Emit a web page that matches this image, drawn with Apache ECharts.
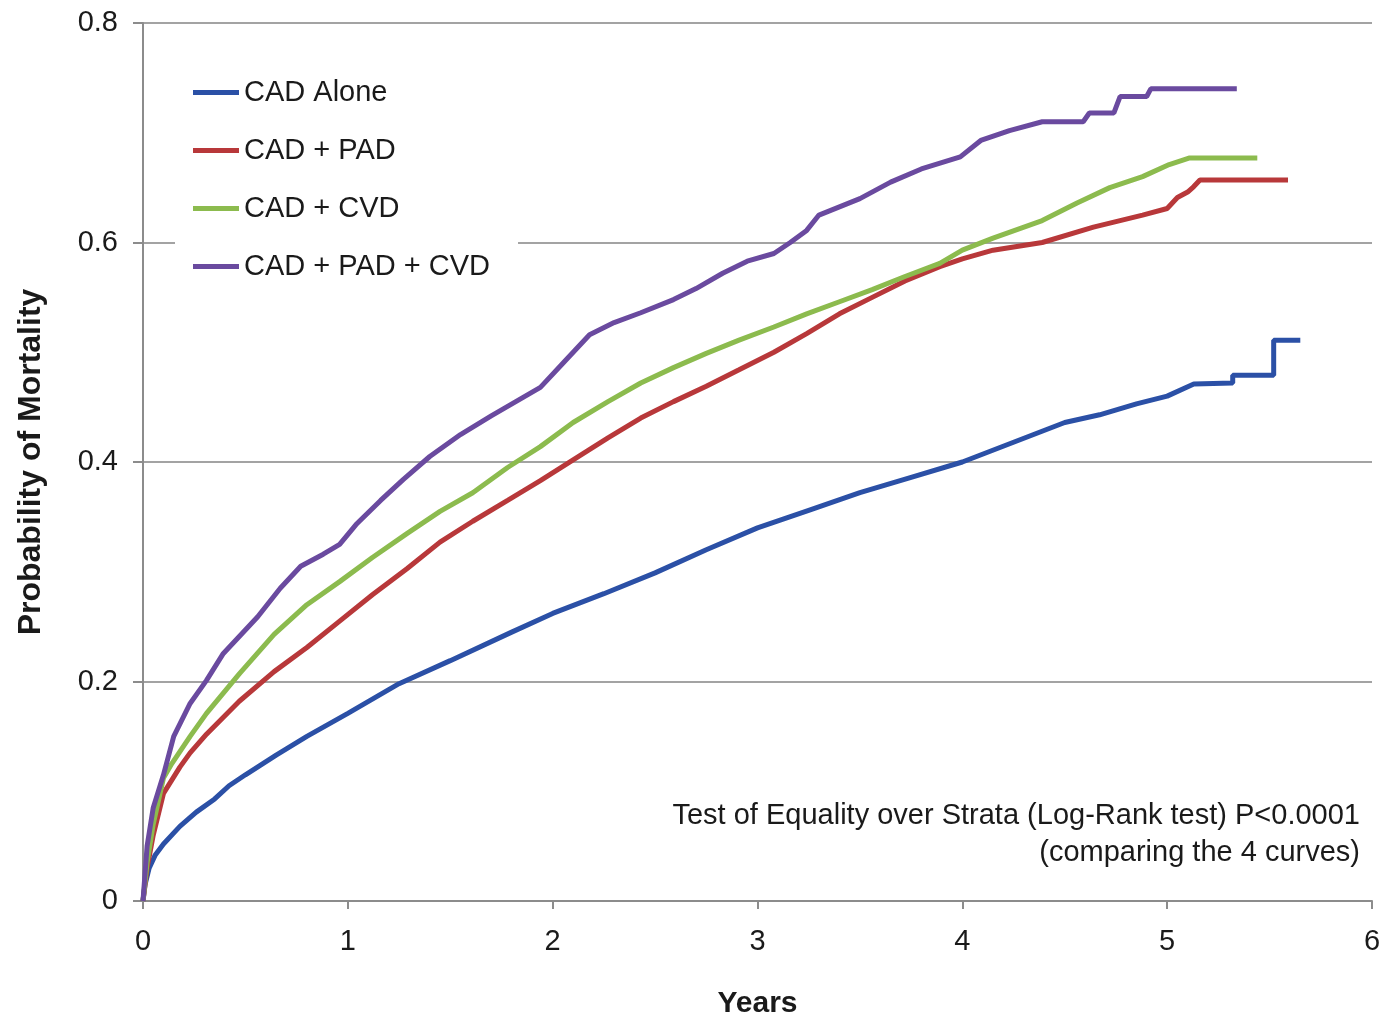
<!DOCTYPE html>
<html>
<head>
<meta charset="utf-8">
<script src="https://cdn.jsdelivr.net/npm/echarts@6/dist/echarts.min.js"></script>
<style>
  html, body { margin: 0; padding: 0; background: #fff; }
  #main { width: 1388px; height: 1021px; }
</style>
</head>
<body>
<div id="main"></div>
<script>
// curves: [years, probability]
const cadAlone = [
  [0,0],[0.01,0.015],[0.03,0.03],[0.06,0.042],[0.1,0.052],[0.18,0.068],[0.26,0.081],
  [0.35,0.093],[0.42,0.105],[0.5,0.115],[0.65,0.133],[0.8,0.150],[1.0,0.171],[1.25,0.198],
  [1.5,0.219],[1.8,0.245],[2.0,0.262],[2.25,0.280],[2.5,0.299],[2.75,0.320],[3.0,0.340],
  [3.25,0.356],[3.5,0.372],[3.75,0.386],[4.0,0.400],[4.25,0.418],[4.5,0.436],[4.67,0.443],
  [4.85,0.453],[5.0,0.460],[5.13,0.471],[5.32,0.472],[5.32,0.479],[5.52,0.479],[5.52,0.511],[5.65,0.511]
]
const cadPad = [
  [0,0],[0.02,0.03],[0.05,0.06],[0.1,0.098],[0.18,0.122],[0.23,0.135],[0.31,0.152],[0.47,0.182],
  [0.64,0.209],[0.8,0.231],[0.96,0.255],[1.12,0.279],[1.29,0.303],[1.45,0.327],[1.61,0.346],
  [1.78,0.365],[1.94,0.383],[2.1,0.402],[2.27,0.422],[2.43,0.440],[2.59,0.455],[2.75,0.469],
  [2.91,0.484],[3.08,0.500],[3.24,0.517],[3.4,0.535],[3.56,0.550],[3.72,0.565],[3.89,0.578],
  [4.0,0.585],[4.15,0.593],[4.39,0.600],[4.64,0.614],[4.88,0.625],[5.0,0.631],[5.05,0.641],
  [5.10,0.646],[5.13,0.651],[5.16,0.657],[5.59,0.657]
]
const cadCvd = [
  [0,0],[0.02,0.035],[0.05,0.07],[0.1,0.112],[0.14,0.125],[0.23,0.150],[0.31,0.171],[0.47,0.207],
  [0.64,0.243],[0.8,0.270],[0.96,0.291],[1.12,0.313],[1.29,0.335],[1.45,0.355],[1.61,0.372],
  [1.78,0.395],[1.94,0.414],[2.1,0.436],[2.27,0.455],[2.43,0.472],[2.59,0.486],[2.75,0.499],
  [2.91,0.511],[3.08,0.523],[3.24,0.535],[3.4,0.546],[3.56,0.557],[3.72,0.569],[3.89,0.581],
  [4.0,0.593],[4.15,0.604],[4.39,0.620],[4.56,0.636],[4.72,0.650],[4.88,0.660],[5.01,0.671],
  [5.11,0.677],[5.44,0.677]
]
const cadPadCvd = [
  [0,0],[0.02,0.05],[0.05,0.085],[0.1,0.115],[0.15,0.150],[0.23,0.180],[0.31,0.201],[0.39,0.225],
  [0.47,0.241],[0.56,0.259],[0.67,0.285],[0.77,0.305],[0.88,0.316],[0.96,0.325],[1.04,0.343],
  [1.16,0.365],[1.27,0.384],[1.4,0.405],[1.55,0.425],[1.7,0.442],[1.82,0.455],[1.94,0.468],
  [2.05,0.490],[2.18,0.516],[2.3,0.527],[2.43,0.536],[2.59,0.548],[2.7,0.558],[2.83,0.572],
  [2.95,0.583],[3.08,0.590],[3.16,0.600],[3.24,0.611],[3.3,0.625],[3.5,0.640],[3.65,0.655],
  [3.8,0.667],[3.99,0.678],[4.09,0.693],[4.23,0.702],[4.39,0.710],[4.59,0.710],[4.62,0.718],
  [4.74,0.718],[4.77,0.733],[4.9,0.733],[4.92,0.740],[5.34,0.740]
]

const seriesNames = ['CAD Alone', 'CAD + PAD', 'CAD + CVD', 'CAD + PAD + CVD']
const seriesColors = ['#2b50a6', '#b8383a', '#8cbb4e', '#6a4a9f']
const curves = [cadAlone, cadPad, cadCvd, cadPadCvd]
const noteLines = ['Test of Equality over Strata (Log-Rank test) P<0.0001', '(comparing the 4 curves)']

const font = 'Liberation Sans, Arial, sans-serif'

let seriesData = []
for (let i = 0; i < curves.length; i++) {
  seriesData.push({
    name: seriesNames[i],
    type: 'line',
    data: curves[i],
    showSymbol: false,
    symbol: 'none',
    lineStyle: { color: seriesColors[i], width: 5 },
    itemStyle: { color: seriesColors[i] }
  })
}

let chart = echarts.init(document.getElementById('main'))
let option = {
  animation: false,
  backgroundColor: '#fff',
  // keep the plot box fixed, names may sit near the edge
  grid: { left: 143, right: 16, top: 23, bottom: 120, containLabel: false, outerBoundsMode: 'none' },
  legend: {
    orient: 'vertical',
    left: 175,
    top: 68,
    padding: [10, 28, 10, 18],
    backgroundColor: '#fff',
    itemGap: 29,
    itemWidth: 46,
    itemHeight: 5,
    icon: 'rect',
    data: seriesNames,
    textStyle: { fontFamily: font, fontSize: 29, color: '#1a1a1a' }
  },
  xAxis: {
    type: 'value',
    min: 0, max: 6, interval: 1,
    name: 'Years',
    nameLocation: 'middle',
    nameGap: 88,
    nameTextStyle: { fontFamily: font, fontSize: 30, fontWeight: 'bold', color: '#1a1a1a' },
    axisLine: { lineStyle: { color: '#8c8c8c', width: 2 } },
    axisTick: { show: true, length: 8, lineStyle: { color: '#8c8c8c', width: 2 } },
    axisLabel: { margin: 26, fontFamily: font, fontSize: 29, color: '#1a1a1a' },
    splitLine: { show: false }
  },
  yAxis: {
    type: 'value',
    min: 0, max: 0.8, interval: 0.2,
    name: 'Probability of Mortality',
    nameLocation: 'middle',
    nameGap: 96,
    nameTextStyle: { fontFamily: font, fontSize: 32, fontWeight: 'bold', color: '#1a1a1a' },
    axisLine: { show: true, lineStyle: { color: '#8c8c8c', width: 2 } },
    axisTick: { show: true, length: 10, lineStyle: { color: '#8c8c8c', width: 2 } },
    axisLabel: { margin: 25, fontFamily: font, fontSize: 29, color: '#1a1a1a' },
    splitLine: { lineStyle: { color: '#a3a3a3', width: 2 } }
  },
  graphic: [
    { type: 'text', right: 28, top: 801, z: 10,
      style: { text: noteLines[0], font: '29px ' + font, fill: '#1a1a1a', textAlign: 'right' } },
    { type: 'text', right: 28, top: 838, z: 10,
      style: { text: noteLines[1], font: '29px ' + font, fill: '#1a1a1a', textAlign: 'right' } }
  ],
  series: seriesData
}
chart.setOption(option)
</script>
</body>
</html>
